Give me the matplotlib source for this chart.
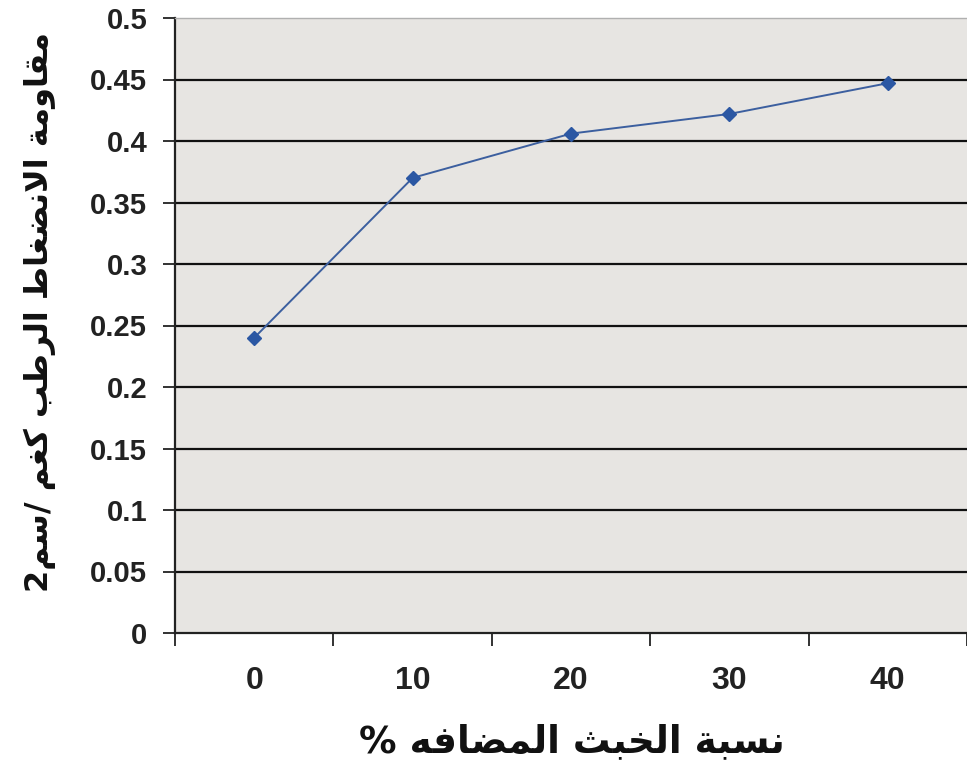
import matplotlib
matplotlib.use('Agg')
import matplotlib.pyplot as plt
from matplotlib import font_manager

categories = ['0', '10', '20', '30', '40']
values = [0.24, 0.37, 0.406, 0.422, 0.447]
y_ticks = [0, 0.05, 0.1, 0.15, 0.2, 0.25, 0.3, 0.35, 0.4, 0.45, 0.5]
y_tick_labels = ['0', '0.05', '0.1', '0.15', '0.2', '0.25', '0.3', '0.35', '0.4', '0.45', '0.5']
ylabel_text = 'مقاومة الانضغاط الرطب كغم /سم2'
xlabel_text = 'نسبة الخبث المضافه %'

# Arabic presentation forms: (isolated, final, initial, medial)
FORMS = {
    'ا': (0xFE8D, 0xFE8E, None, None),
    'ب': (0xFE8F, 0xFE90, 0xFE91, 0xFE92),
    'ة': (0xFE93, 0xFE94, None, None),
    'ث': (0xFE99, 0xFE9A, 0xFE9B, 0xFE9C),
    'خ': (0xFEA5, 0xFEA6, 0xFEA7, 0xFEA8),
    'ر': (0xFEAD, 0xFEAE, None, None),
    'س': (0xFEB1, 0xFEB2, 0xFEB3, 0xFEB4),
    'ض': (0xFEBD, 0xFEBE, 0xFEBF, 0xFEC0),
    'ط': (0xFEC1, 0xFEC2, 0xFEC3, 0xFEC4),
    'غ': (0xFECD, 0xFECE, 0xFECF, 0xFED0),
    'ف': (0xFED1, 0xFED2, 0xFED3, 0xFED4),
    'ق': (0xFED5, 0xFED6, 0xFED7, 0xFED8),
    'ك': (0xFED9, 0xFEDA, 0xFEDB, 0xFEDC),
    'ل': (0xFEDD, 0xFEDE, 0xFEDF, 0xFEE0),
    'م': (0xFEE1, 0xFEE2, 0xFEE3, 0xFEE4),
    'ن': (0xFEE5, 0xFEE6, 0xFEE7, 0xFEE8),
    'ه': (0xFEE9, 0xFEEA, 0xFEEB, 0xFEEC),
    'و': (0xFEED, 0xFEEE, None, None),
    'LA': (0xFEFB, 0xFEFC, None, None),
}


def shape(text):
    seq = []
    i = 0
    while i < len(text):
        if text[i] == 'ل' and i + 1 < len(text) and text[i + 1] == 'ا':
            seq.append('LA')
            i += 2
        else:
            seq.append(text[i])
            i += 1

    def joins_next(c):
        return c in FORMS and FORMS[c][2] is not None

    out = []
    for k, c in enumerate(seq):
        if c not in FORMS:
            out.append(c)
            continue
        prev = seq[k - 1] if k > 0 else None
        nxt = seq[k + 1] if k + 1 < len(seq) else None
        jp = prev is not None and joins_next(prev)
        jn = nxt is not None and nxt in FORMS and joins_next(c)
        iso, fin, ini, med = FORMS[c]
        if jp and jn:
            f = med
        elif jp:
            f = fin
        elif jn:
            f = ini
        else:
            f = iso
        out.append(chr(f))
    return ''.join(reversed(out))


names = {f.name for f in font_manager.fontManager.ttflist}
narrow = 'Liberation Sans Narrow' if 'Liberation Sans Narrow' in names else 'Liberation Sans'

fig = plt.figure(figsize=(9.67, 7.67), dpi=100)
ax = fig.add_axes([175 / 967, 1 - 633 / 767, 1 - 175 / 967, (633 - 18) / 767])
ax.set_facecolor('#e7e5e2')

x = list(range(len(categories)))
ax.plot(x, values, color='#3c5f9f', lw=1.4, marker='D', markersize=7,
        markerfacecolor='#2b57a3', markeredgecolor='#2b57a3', zorder=3)

ax.set_xlim(-0.5, 4.45)
ax.set_ylim(0, 0.5)

ax.set_yticks(y_ticks)
ax.set_yticklabels(y_tick_labels, fontsize=21, fontweight='bold',
                   family=['Liberation Sans', 'DejaVu Sans'], color='#222222')
ax.tick_params(axis='y', length=9, width=1.3, pad=11, color='#222222')

ax.set_xticks(x)
ax.set_xticklabels(categories, fontsize=23, fontweight='bold',
                   family=[narrow, 'DejaVu Sans'], color='#222222')
ax.set_xticks([i - 0.5 for i in range(len(categories) + 1)], minor=True)
ax.tick_params(axis='x', which='major', length=0, pad=24)
ax.tick_params(axis='x', which='minor', length=9, width=1.3, color='#222222')

for yv in y_ticks[1:-1]:
    ax.axhline(yv, color='#111111', lw=1.6, zorder=1)

ax.spines['right'].set_visible(False)
ax.spines['top'].set_color('#b0b0b0')
ax.spines['top'].set_linewidth(1.0)
ax.spines['left'].set_linewidth(1.6)
ax.spines['left'].set_color('#222222')
ax.spines['bottom'].set_linewidth(1.6)
ax.spines['bottom'].set_color('#222222')

fig.text(40 / 967, 1 - 312 / 767, shape(ylabel_text), rotation=90, ha='center', va='center',
         fontsize=23, fontweight='bold', family=['DejaVu Sans'], color='#111111')
fig.text(572 / 967, 1 - 742 / 767, shape(xlabel_text), ha='center', va='center',
         fontsize=27, fontweight='bold', family=['DejaVu Sans'], color='#111111')

fig.savefig('out.png', dpi=100, facecolor='white')
